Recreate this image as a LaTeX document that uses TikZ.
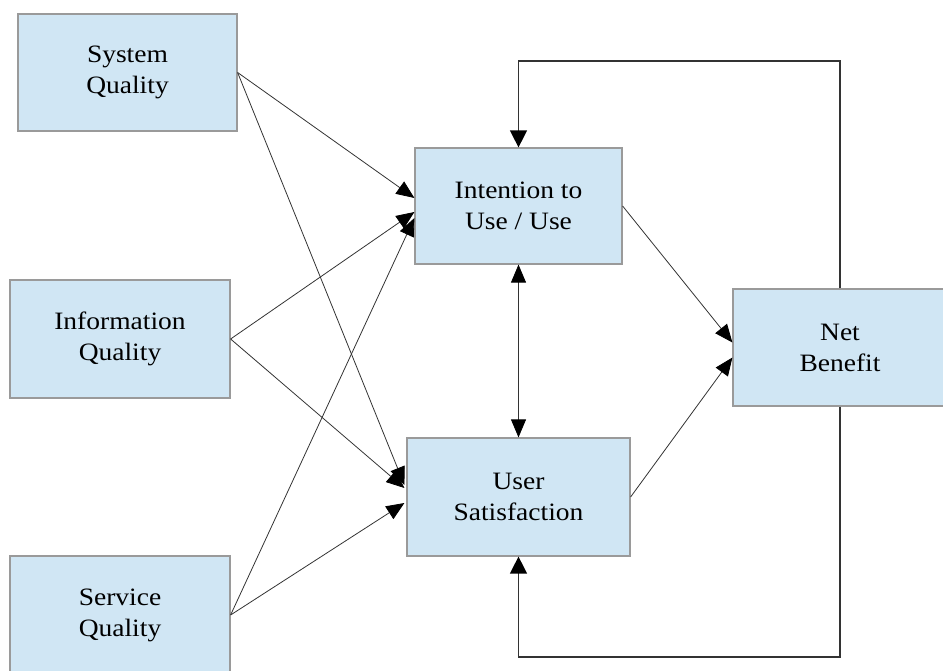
\documentclass[tikz,border=0pt]{standalone}
\usepackage{fontspec}
\setmainfont{Liberation Serif}
\newfontfamily\boxfont{Liberation Serif}[FakeStretch=1.1]
\usetikzlibrary{arrows.meta}

\definecolor{boxfill}{HTML}{D0E6F4}
\definecolor{boxline}{HTML}{9A9A9A}
\definecolor{linkline}{HTML}{333333}

\begin{document}
\begin{tikzpicture}[x=1pt,y=-1pt,
    construct/.style={draw=boxline,fill=boxfill,line width=1.2pt,align=center,
      inner sep=0pt,font=\boxfont\fontsize{25}{31}\selectfont},
    link/.style={draw=linkline,line width=0.8pt,-{Triangle[length=18pt,width=15pt,color=black]}},
    feedback/.style={draw=linkline,line width=1.3pt,-{Triangle[length=17pt,width=17pt,color=black]}}]

  \clip (0,0) rectangle (943,671);
  \useasboundingbox (0,0) rectangle (943,671);

  % constructs
  \node[construct,minimum width=219pt,minimum height=117pt] (sys)  at (127.5,72.5) {System\\Quality};
  \node[construct,minimum width=220pt,minimum height=118pt] (info) at (120,339)   {Information\\Quality};
  \node[construct,minimum width=220pt,minimum height=118pt] (serv) at (120,615)   {Service\\Quality};
  \node[construct,minimum width=207pt,minimum height=116pt] (use)  at (518.5,206) {Intention to\\Use / Use};
  \node[construct,minimum width=223pt,minimum height=118pt] (sat)  at (518.5,497) {User\\Satisfaction};
  \node[construct,minimum width=214pt,minimum height=117pt] (net)  at (840,347.5) {Net\\Benefit};

  % quality -> use / satisfaction
  \path (sys.east)  edge[link] ([yshift=8pt]use.west);
  \path (info.east) edge[link] ([yshift=-6pt]use.west);
  \path (serv.east) edge[link] ([yshift=-12pt]use.west);
  \path (sys.east)  edge[link] ([xshift=-2pt,yshift=12pt]sat.west);
  \path (info.east) edge[link] ([xshift=-2pt,yshift=9pt]sat.west);
  \path (serv.east) edge[link] ([xshift=-2pt,yshift=-6pt]sat.west);

  % use <-> satisfaction
  \draw[link,{Triangle[length=18pt,width=15pt,color=black]}-{Triangle[length=18pt,width=15pt,color=black]}] (use.south) -- (sat.north);

  % to net benefit
  \path (use.east) edge[link] ([yshift=5pt]net.west);
  \path (sat.east) edge[link] ([yshift=-10pt]net.west);

  % feedback loops
  \coordinate (topbend) at (840,61);
  \coordinate (botbend) at (840,657);
  \draw[feedback] (net.north) -- (topbend) -| (use.north);
  \draw[feedback] (net.south) -- (botbend) -| (sat.south);

\end{tikzpicture}
\end{document}
